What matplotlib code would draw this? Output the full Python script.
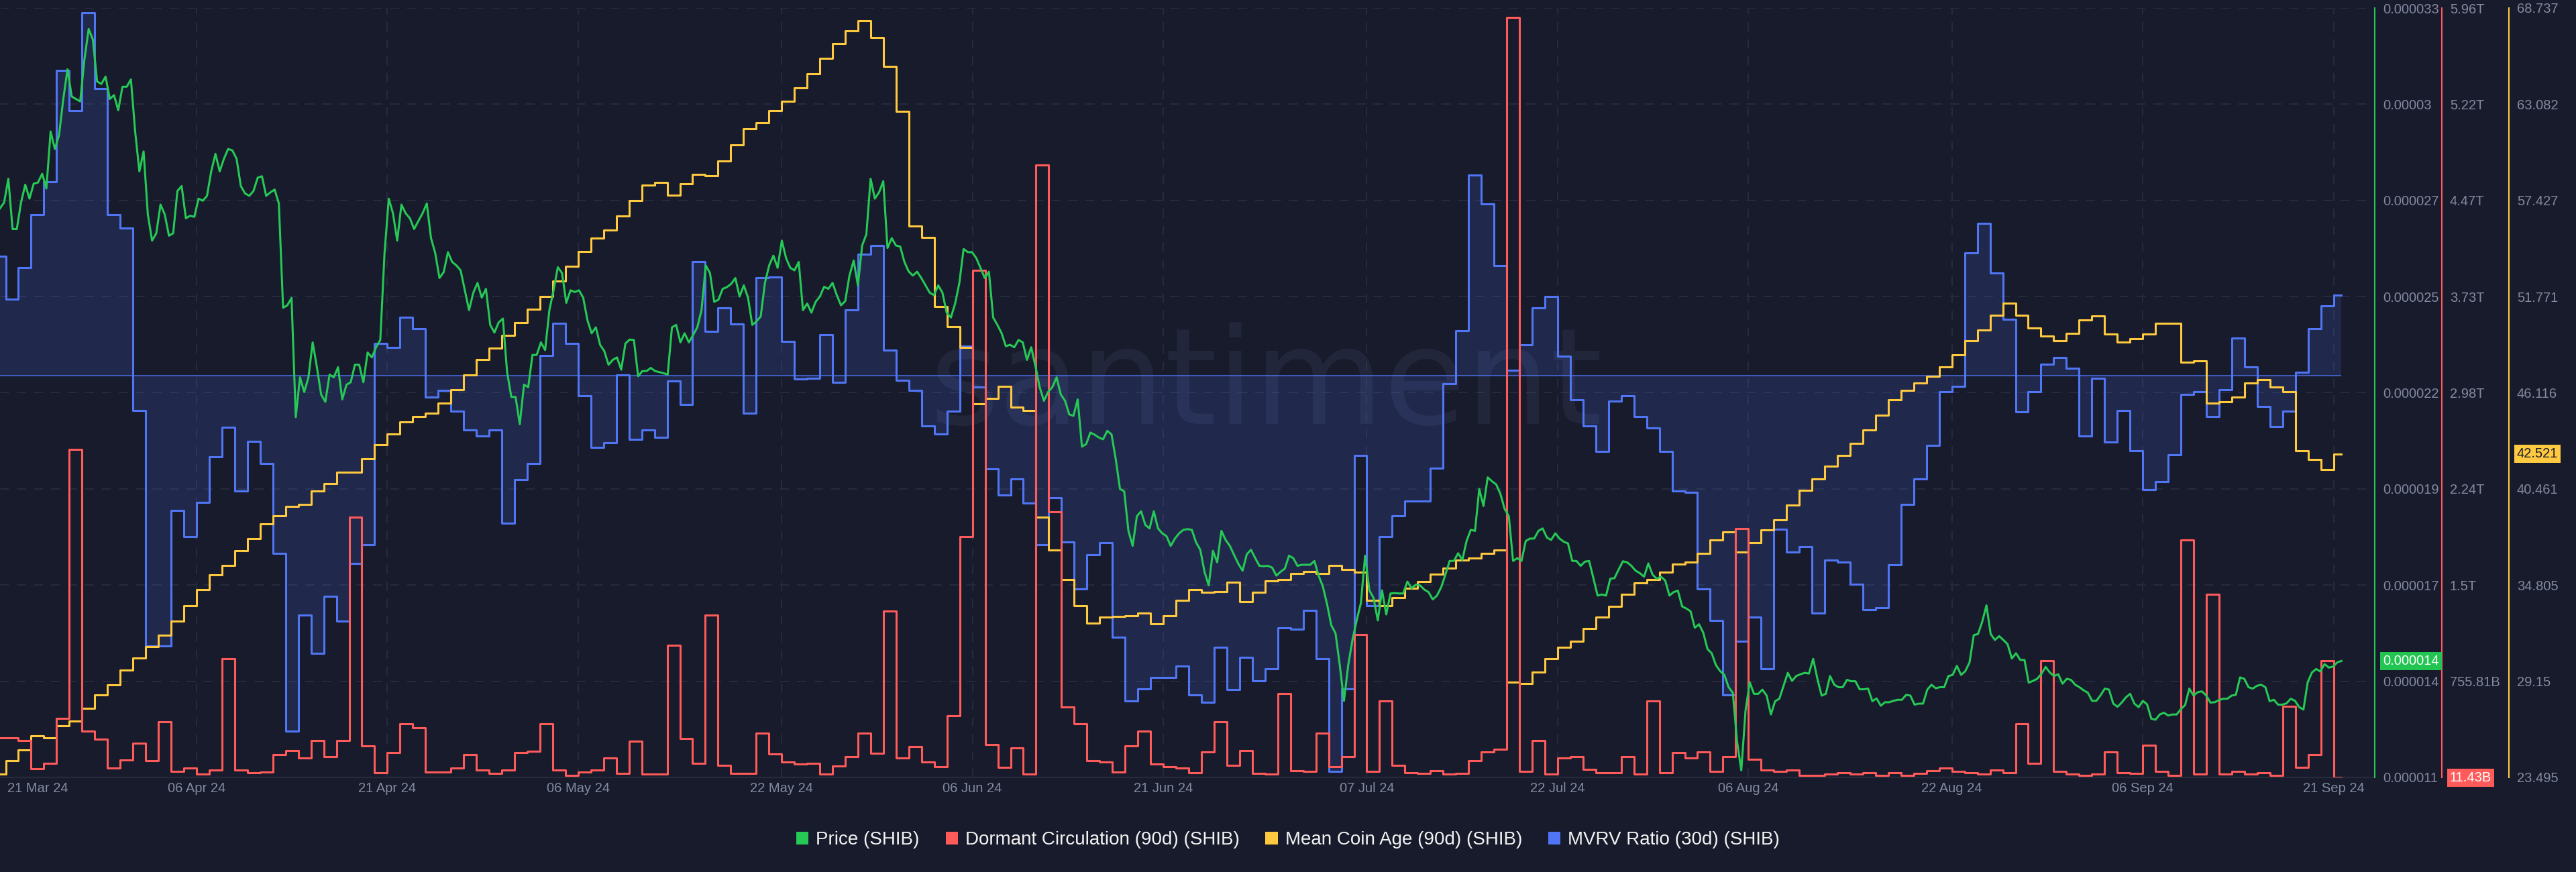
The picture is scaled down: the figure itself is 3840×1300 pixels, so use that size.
import numpy as np
import pandas as pd
import matplotlib
matplotlib.use('Agg')
import matplotlib.pyplot as plt
import matplotlib.dates as mdates
from matplotlib.patches import Patch

plt.rcParams['font.family'] = ['Liberation Sans', 'DejaVu Sans']

BG = '#181b2b'
GREEN = '#26c956'
RED = '#ff5b5b'
YELLOW = '#ffc940'
BLUE = '#5076f5'
TICK = '#838aa1'
GRID = '#272b3e'

# daily metrics, one value per day starting 21 Mar 2024
day_start = '2024-03-21'
data_end = '2024-09-21 15:00'

# Dormant Circulation (90d), billions of SHIB
dormant_b = [
    317.7, 317.7, 298.5, 79.6, 121.8, 467.0, 2550.6, 371.4, 305.5, 87.3,
    148.7, 279.3, 140.0, 444.0, 56.8, 87.3, 37.6, 68.3, 931.4, 68.3,
    49.2, 53.0, 191.1, 221.8, 164.3, 298.5, 172.0, 298.5, 2024.9, 256.3,
    49.2, 202.6, 428.9, 398.2, 53.0, 53.0, 83.7, 191.1, 68.3, 45.3,
    68.3, 206.4, 214.1, 428.9, 68.3, 30.0, 53.0, 68.3, 164.3, 45.3,
    294.6, 37.6, 37.6, 1035.0, 313.8, 122.6, 1265.2, 103.4, 45.3, 45.3,
    352.2, 194.9, 133.6, 114.4, 122.1, 37.6, 102.2, 175.1, 352.2, 198.8,
    1295.9, 164.3, 248.7, 133.6, 95.3, 490.3, 1871.4, 3930.0, 267.9, 87.6,
    241.0, 37.6, 4748.2, 2063.3, 555.5, 428.9, 141.3, 133.6, 53.0, 256.3,
    371.4, 114.4, 95.3, 83.7, 49.2, 210.3, 440.4, 103.4, 221.8, 45.3,
    37.6, 659.1, 64.5, 56.8, 356.0, 95.3, 172.0, 1119.4, 56.8, 601.6,
    103.4, 49.2, 45.3, 64.5, 37.6, 45.3, 141.3, 210.3, 229.5, 5887.6,
    56.8, 298.5, 37.6, 164.3, 172.0, 76.0, 49.2, 49.2, 175.1, 37.6,
    601.6, 49.2, 202.6, 160.4, 210.3, 56.8, 172.0, 1936.1, 152.8, 68.3,
    60.6, 68.3, 30.0, 30.0, 37.6, 49.2, 37.6, 49.2, 30.0, 49.2,
    30.0, 45.3, 64.5, 83.7, 56.8, 49.2, 37.6, 68.3, 49.2, 428.9,
    122.6, 912.2, 56.8, 37.6, 30.0, 37.6, 210.3, 49.2, 45.3, 260.1,
    56.8, 30.0, 1848.5, 37.6, 1426.5, 37.6, 56.8, 37.6, 49.2, 30.0,
    563.2, 87.6, 191.1, 912.2, 11.43,
]

# Mean Coin Age (90d)
mean_age = [
    23.69, 24.47, 25.12, 25.96, 25.82, 26.52, 26.81, 27.54, 28.36, 28.94,
    29.82, 30.52, 31.19, 31.86, 32.70, 33.61, 34.54, 35.42, 35.94, 36.82,
    37.55, 38.42, 38.86, 39.45, 39.53, 40.32, 40.76, 41.43, 41.43, 42.22,
    43.04, 43.68, 44.41, 44.70, 44.93, 45.49, 46.30, 47.18, 48.08, 48.73,
    49.49, 50.25, 51.03, 51.76, 52.70, 53.57, 54.42, 55.21, 55.70, 56.52,
    57.40, 58.33, 58.48, 57.75, 58.42, 58.94, 58.89, 59.73, 60.70, 61.63,
    61.98, 62.71, 63.24, 64.04, 64.89, 65.79, 66.64, 67.40, 67.98, 66.99,
    65.30, 62.67, 55.93, 55.26, 51.20, 50.01, 48.78, 45.48, 45.77, 46.50,
    45.28, 45.07, 38.80, 36.87, 35.12, 33.61, 32.58, 32.93, 32.96, 33.02,
    33.17, 32.53, 33.02, 33.90, 34.54, 34.39, 34.42, 34.98, 33.81, 34.39,
    35.07, 35.13, 35.50, 35.59, 35.50, 35.94, 35.71, 35.56, 33.90, 33.61,
    34.05, 34.63, 35.01, 35.45, 35.80, 36.29, 36.38, 36.67, 36.88, 29.08,
    29.00, 29.67, 30.49, 31.13, 31.51, 32.24, 32.94, 33.55, 34.28, 34.92,
    35.13, 35.56, 36.03, 36.15, 36.67, 37.46, 37.93, 36.76, 37.31, 38.04,
    38.66, 39.50, 40.38, 41.05, 41.78, 42.42, 43.15, 43.94, 44.79, 45.69,
    46.25, 46.68, 47.09, 47.62, 48.35, 49.19, 49.80, 50.67, 51.37, 50.67,
    49.94, 49.45, 49.16, 49.59, 50.38, 50.65, 49.57, 49.10, 49.28, 49.57,
    50.18, 50.18, 47.91, 47.97, 45.49, 45.58, 45.87, 46.69, 46.89, 46.45,
    46.16, 42.72, 42.19, 41.58, 42.521,
]

# MVRV Ratio (30d), percent
mvrv_30d = [
    8.92, 5.70, 8.07, 12.02, 14.43, 22.75, 19.76, 27.04, 21.42, 12.02,
    10.99, -2.59, -20.13, -20.13, -10.03, -11.99, -9.47, -6.07, -3.85, -8.58,
    -4.88, -6.55, -13.24, -26.49, -17.83, -20.68, -16.43, -18.31, -13.98, -12.58,
    2.40, 2.11, 4.33, 3.51, -1.59, -1.11, -2.63, -4.03, -4.48, -4.03,
    -11.02, -7.77, -6.55, 1.48, 3.92, 2.40, -1.48, -5.36, -4.99, 0.05,
    -4.74, -4.07, -4.62, -0.41, -2.15, 8.51, 3.29, 5.07, 3.85, -2.81,
    7.29, 7.36, 2.55, -0.26, -0.18, 3.03, -0.48, 4.88, 9.06, 9.69,
    1.92, -0.37, -1.11, -3.74, -4.37, -2.63, 2.18, -0.85, -6.96, -8.92,
    -7.70, -9.51, -12.58, -9.10, -12.39, -15.91, -13.36, -12.43, -19.50, -24.23,
    -23.34, -22.49, -22.49, -21.64, -23.79, -24.34, -20.27, -23.42, -21.01, -22.75,
    -21.83, -18.79, -18.90, -17.50, -21.12, -29.52, -23.34, -5.96, -17.13, -12.02,
    -10.47, -9.36, -9.36, -6.88, -0.59, 3.33, 14.95, 12.80, 8.18, 0.41,
    2.29, 5.03, 5.88, 1.44, -1.78, -3.74, -5.66, -1.89, -1.48, -3.07,
    -3.88, -5.66, -8.62, -8.69, -15.91, -18.24, -23.79, -19.79, -17.98, -21.83,
    -11.47, -13.17, -12.76, -17.68, -13.73, -13.91, -15.54, -17.43, -17.31, -14.10,
    -9.62, -7.70, -5.18, -1.22, -0.78, 9.14, 11.36, 7.66, 4.22, -2.70,
    -1.18, 0.85, 1.37, 0.55, -4.51, -0.22, -4.96, -2.59, -5.62, -8.51,
    -7.88, -5.88, -1.41, -1.22, -3.07, -1.04, 2.81, 0.63, -2.29, -3.81,
    -2.63, 0.26, 3.51, 5.18, 5.99,
]

# SHIB price in millionths of a dollar, about every 8 hours
price_start = '2024-03-21 13:00'
price_e6 = [
    27.27, 27.44, 28.12, 26.68, 26.68, 27.44, 27.95, 27.55, 27.98, 28.01,
    28.26, 27.84, 29.47, 28.97, 29.37, 30.40, 31.25, 30.47, 30.40, 30.33,
    31.53, 32.40, 32.10, 30.90, 30.83, 31.04, 30.40, 30.51, 30.08, 30.75,
    30.75, 30.96, 29.47, 28.33, 28.90, 27.10, 26.35, 26.56, 27.38, 27.10,
    26.49, 26.56, 27.77, 27.91, 26.99, 27.06, 27.03, 27.55, 27.49, 27.63,
    28.33, 28.83, 28.33, 28.69, 28.97, 28.93, 28.69, 27.91, 27.70, 27.63,
    27.77, 28.15, 28.19, 27.63, 27.73, 27.81, 27.41, 24.43, 24.50, 24.71,
    21.30, 22.44, 22.02, 22.44, 23.44, 22.73, 21.95, 21.74, 22.52, 22.44,
    22.73, 21.81, 22.23, 22.30, 22.80, 22.80, 22.30, 23.15, 23.01, 23.30,
    23.51, 25.99, 27.55, 27.13,
    26.35, 27.38, 27.13, 26.99, 26.68, 26.91, 27.13, 27.41, 26.42, 25.99,
    25.28, 25.45, 26.02, 25.74, 25.64, 25.50, 24.93, 24.36, 24.86, 25.14,
    24.72, 24.97, 23.94, 23.72, 24.01, 24.12, 22.59, 21.88, 21.88, 21.10,
    22.23, 22.16, 23.08, 23.08, 23.44, 23.22, 24.36, 24.93, 25.59, 25.42,
    24.57, 24.93, 24.88, 24.93, 24.72, 24.08, 23.70, 23.87, 23.37, 23.19,
    22.80, 22.94, 23.01, 22.66, 23.41, 23.52, 23.51, 22.47, 22.62, 22.62,
    22.71, 22.62, 22.59, 22.56, 22.52, 23.87, 23.94, 23.44, 23.70, 23.44,
    23.65, 23.87, 24.36, 25.64, 25.42, 24.60, 24.66, 24.97, 25.02, 25.11,
    25.28, 24.75, 25.07, 24.72, 23.94, 24.04, 24.18, 25.14, 25.64, 25.92,
    25.57, 26.35, 25.85, 25.57,
    25.50, 25.74, 24.36, 24.55, 24.29, 24.60, 24.75, 25.03, 24.97, 25.14,
    24.79, 24.50, 24.62, 25.35, 25.78, 25.07, 26.21, 26.53, 28.12, 27.55,
    27.73, 28.05, 26.14, 26.42, 26.21, 26.18, 25.74, 25.47, 25.35, 25.46,
    25.28, 25.07, 24.86, 24.79, 25.07, 24.86, 24.29, 24.15, 24.55, 25.14,
    26.11, 26.02, 26.02, 25.85, 25.57, 25.28, 25.46, 24.15, 23.94, 23.70,
    23.33, 23.37, 23.30, 23.51, 23.44, 22.94, 23.30, 22.76, 22.16, 21.77,
    22.02, 22.16, 22.44, 21.95, 21.77, 21.38, 21.34, 21.81, 20.46, 20.53,
    20.86, 20.80, 20.72, 20.67, 20.91, 20.81, 20.10, 19.25, 19.18, 18.05,
    17.62, 18.47, 18.61, 18.22, 18.12, 18.61, 18.12, 17.98, 17.90, 17.62,
    17.83, 17.98, 18.08,
    18.10, 18.08, 17.72, 17.51, 16.88, 16.49, 17.48, 17.15, 18.05, 17.79,
    17.62, 17.36, 17.11, 16.91, 17.38, 17.51, 17.27, 17.05, 17.04, 17.05,
    17.00, 16.77, 16.88, 16.97, 17.34, 17.27, 17.05, 17.08, 17.08, 17.08,
    17.19, 16.77, 16.46, 15.95, 15.35, 15.12, 14.21, 13.19, 14.21, 14.93,
    15.49, 15.99, 17.34, 16.35, 16.13, 15.49, 16.35, 15.66, 16.26, 16.27,
    16.26, 16.26, 16.60, 16.41, 16.51, 16.49, 16.37, 16.30, 16.09, 16.20,
    16.44, 16.80, 17.19, 17.19, 17.41, 17.22, 17.76, 18.08, 18.05, 19.25,
    18.76, 19.58, 19.47, 19.38, 19.11, 18.68, 18.47, 17.19, 17.27, 17.19,
    17.76, 17.83, 17.83, 18.05, 18.12, 17.86, 17.79, 17.98, 17.83, 17.74,
    17.69, 17.19, 17.19, 17.05,
    17.17, 17.19, 16.70, 16.20, 16.23, 16.20, 16.68, 16.70, 16.95, 17.18,
    17.15, 17.05, 16.91, 16.84, 16.74, 17.12, 16.80, 16.68, 16.74, 16.63,
    16.20, 16.30, 16.34, 15.89, 15.83, 15.75, 15.28, 15.38, 15.14, 14.67,
    14.55, 14.21, 14.04, 13.93, 13.58, 13.42, 12.02, 11.20, 12.91, 13.72,
    13.39, 13.39, 13.51, 13.34, 12.80, 13.18, 13.25, 13.62, 13.99, 13.76,
    13.90, 13.95, 13.99, 13.97, 14.39, 13.82, 13.34, 13.39, 13.90, 13.65,
    13.58, 13.58, 13.79, 13.75, 13.75, 13.52, 13.52, 13.54, 13.18, 13.26,
    13.05, 13.15, 13.15, 13.19, 13.22, 13.22, 13.36, 13.34, 13.08, 13.11,
    13.11, 13.51, 13.65, 13.55, 13.58, 13.58, 13.90, 13.93, 14.19, 13.93,
    14.04, 14.29, 15.07, 15.10,
    15.45, 15.92, 15.10, 14.93, 15.04, 14.93, 14.81, 14.40, 14.55, 14.36,
    14.36, 13.71, 13.76, 13.82, 13.96, 14.16, 14.00, 13.90, 13.95, 13.68,
    13.82, 13.79, 13.65, 13.58, 13.49, 13.42, 13.19, 13.19, 13.35, 13.54,
    13.51, 13.11, 13.02, 13.14, 13.29, 13.39, 13.11, 13.01, 13.19, 13.09,
    12.68, 12.65, 12.80, 12.85, 12.77, 12.80, 12.80, 12.95, 13.07, 13.54,
    13.34, 13.44, 13.46, 13.34, 13.14, 13.15, 13.21, 13.25, 13.25, 13.34,
    13.36, 13.86, 13.82, 13.58, 13.54, 13.62, 13.65, 13.58, 13.18, 13.22,
    13.08, 13.08, 13.12, 13.25, 13.19, 13.01, 12.94, 13.72, 14.00, 14.10,
    14.03, 14.24, 14.14, 14.17, 14.29, 14.33,
]

tick_dates = ['2024-04-06', '2024-04-21', '2024-05-06', '2024-05-22', '2024-06-06',
              '2024-06-21', '2024-07-07', '2024-07-22', '2024-08-06', '2024-08-22',
              '2024-09-06', '2024-09-21']
tick_labels = ['06 Apr 24', '21 Apr 24', '06 May 24', '22 May 24', '06 Jun 24',
               '21 Jun 24', '07 Jul 24', '22 Jul 24', '06 Aug 24', '22 Aug 24',
               '06 Sep 24', '21 Sep 24']

price_ticks = [11, 13.75, 16.5, 19.25, 22, 24.75, 27.5, 30.25, 33]
price_tick_labels = ['0.000011', '0.000014', '0.000017', '0.000019', '0.000022',
                     '0.000025', '0.000027', '0.00003', '0.000033']
dormant_ticks = [755.81, 1499.27, 2242.73, 2986.19, 3729.65, 4473.11, 5216.57, 5960.03]
dormant_tick_labels = ['755.81B', '1.5T', '2.24T', '2.98T', '3.73T', '4.47T', '5.22T', '5.96T']
age_ticks = [23.495, 29.15, 34.805, 40.461, 46.116, 51.771, 57.427, 63.082, 68.737]

# ---- x values
days = pd.date_range(day_start, periods=len(mvrv_30d), freq='D')
step_x = mdates.date2num(days.append(pd.DatetimeIndex([data_end])).to_pydatetime())
price_x = mdates.date2num(pd.date_range(price_start, data_end, periods=len(price_e6)).to_pydatetime())

def stepped(v):
    v = np.asarray(v, dtype=float)
    return np.append(v, v[-1])

price = np.array(price_e6) * 1e-6
dormant = np.array(dormant_b) * 1e9

W, H = 3840, 1300
fig = plt.figure(figsize=(W / 100, H / 100), dpi=100, facecolor=BG)
ax = fig.add_axes([0, 1 - 1159 / H, 3540 / W, (1159 - 12) / H])
ax.set_facecolor(BG)

x0 = mdates.date2num(pd.Timestamp('2024-03-21 13:12'))
x1 = mdates.date2num(pd.Timestamp('2024-09-24 05:45'))
ax.set_xlim(x0, x1)
ax.set_ylim(11e-6, 33e-6)
ax.set_yticks(np.array(price_ticks) * 1e-6)
ax.tick_params(axis='y', left=False, labelleft=False, right=False)
tx = mdates.date2num(pd.to_datetime(tick_dates).to_pydatetime())
ax.set_xticks(tx, tick_labels)
ax.tick_params(axis='x', length=0, pad=5, colors=TICK, labelsize=14.5)
ax.grid(True, color=GRID, linestyle=(0, (7, 6)), linewidth=1.4)
for s in ['left', 'right', 'top']:
    ax.spines[s].set_visible(False)
ax.spines['bottom'].set_color('#262a3a')
ax.spines['bottom'].set_linewidth(1.6)
# first date label sits at the left edge
ax.text(0.003, -0.006, '21 Mar 24', transform=ax.transAxes, ha='left', va='top',
        color=TICK, fontsize=14.5)
ax.text(0.533, 0.4595, 'santiment', transform=ax.transAxes, ha='center', va='baseline',
        fontsize=143, color='#8090c0', alpha=0.1, family='DejaVu Sans')

# MVRV (hidden axis)
ax_b = ax.twinx()
ax_b.set_ylim(-29.95, 27.4)
ax_b.fill_between(step_x, stepped(mvrv_30d), 0, step='post', color=BLUE, alpha=0.16, lw=0)
ax_b.step(step_x, stepped(mvrv_30d), where='post', color=BLUE, lw=2.2)
ax_b.hlines(0, step_x[0], step_x[-1], color=BLUE, lw=1.1, alpha=0.9)
ax_b.axis('off')

def side_axis(a, pos, color):
    for s in ['left', 'top', 'bottom']:
        a.spines[s].set_visible(False)
    a.spines['right'].set_position(('axes', pos))
    a.spines['right'].set_color(color)
    a.spines['right'].set_linewidth(1.5)
    a.tick_params(axis='y', length=0, pad=8.6, colors=TICK, labelsize=14.5)

# Mean coin age
ax_y = ax.twinx()
ax_y.step(step_x, stepped(mean_age), where='post', color=YELLOW, lw=2.2)
ax_y.set_ylim(age_ticks[0], age_ticks[-1])
ax_y.set_yticks(age_ticks, [f'{t:g}' for t in age_ticks])
side_axis(ax_y, 3740 / 3540, YELLOW)

# Dormant circulation
ax_r = ax.twinx()
ax_r.step(step_x, stepped(dormant), where='post', color=RED, lw=2.2)
ax_r.set_ylim(12.35e9, 5960.03e9)
ax_r.set_yticks(np.array(dormant_ticks) * 1e9, dormant_tick_labels)
side_axis(ax_r, 3640 / 3540, RED)

# Price
ax_p = ax.twinx()
ax_p.plot(price_x, price, color=GREEN, lw=2.2)
ax_p.set_ylim(11e-6, 33e-6)
ax_p.set_yticks(np.array(price_ticks) * 1e-6, price_tick_labels)
side_axis(ax_p, 1.0, GREEN)

# current value boxes
def value_box(a, xpos, y, text, face, fg):
    a.annotate(text, xy=(xpos, y), xycoords=('axes fraction', 'data'),
               xytext=(8.6, 0), textcoords='offset points', ha='left', va='center',
               fontsize=14.5, color=fg, annotation_clip=False,
               bbox=dict(boxstyle='square,pad=0.2', fc=face, ec='none'))

value_box(ax_p, 1.0, price[-1], f'{price[-1]:.6f}', '#23c552', 'white')
value_box(ax_r, 3640 / 3540, dormant[-1], f'{dormant_b[-1]:.2f}B', RED, 'white')
value_box(ax_y, 3740 / 3540, mean_age[-1], f'{mean_age[-1]:.3f}', YELLOW, BG)

handles = [Patch(facecolor=c, edgecolor='none') for c in [GREEN, RED, YELLOW, BLUE]]
labels = ['Price (SHIB)', 'Dormant Circulation (90d) (SHIB)',
          'Mean Coin Age (90d) (SHIB)', 'MVRV Ratio (30d) (SHIB)']
fig.legend(handles, labels, loc='center', bbox_to_anchor=(0.5, 1 - 1252 / H), ncol=4,
           frameon=False, fontsize=20, labelcolor='#f2f2f2', handlelength=0.65,
           handleheight=0.65, handletextpad=0.4, columnspacing=1.4)

fig.savefig('out.png', dpi=100, facecolor=BG)
